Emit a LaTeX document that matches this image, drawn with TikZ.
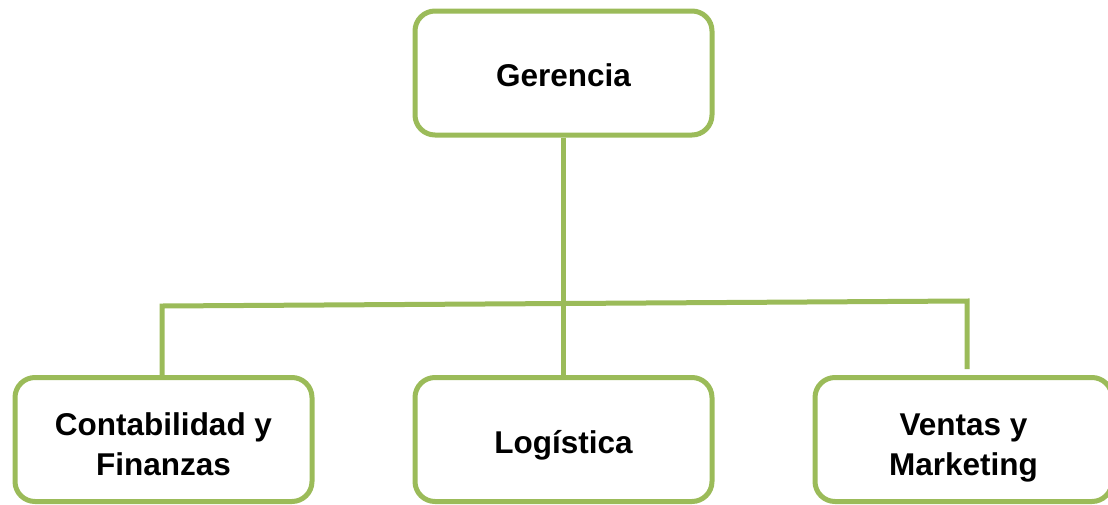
\documentclass[tikz,border=0pt]{standalone}
\usepackage{fontspec}
\setmainfont{Liberation Sans}
\usetikzlibrary{positioning}
\definecolor{orgGreen}{HTML}{9BBB59}
\newcommand{\boxw}{297pt}
\newcommand{\boxh}{124pt}
\tikzstyle{unit} = [draw=orgGreen, line width=5pt, rounded corners=20pt, fill=white, minimum width=\boxw, minimum height=\boxh, align=center, font=\fontsize{31.5}{40}\selectfont\bfseries]
\tikzstyle{link} = [draw=orgGreen, line width=5pt]

\begin{document}
\begin{tikzpicture}[x=1pt, y=-1pt, node distance=98pt]

		\useasboundingbox (0,0) rectangle (1108,504);

		\node (ger) [unit, text height=27pt, text depth=0pt] at (563.5,73) {Gerencia};

		\node (log) [unit, below=237.5pt of ger, text height=35pt, text depth=6.5pt] {Logística};
		\node (cont) [unit, left=of log, text height=71pt, text depth=0pt] {Contabilidad y\\Finanzas};
		\node (vent) [unit, right=of log, text height=71pt, text depth=0pt] {Ventas y\\Marketing};

		\coordinate (lft) at (162,306);
		\coordinate (rgt) at (967,301);

		\draw [link] (ger.south) -- (log.north);
		\draw [link] (lft |- cont.north) -- (lft) -- (rgt) -- ([yshift=6pt]rgt |- vent.north);

	\end{tikzpicture}
\end{document}
